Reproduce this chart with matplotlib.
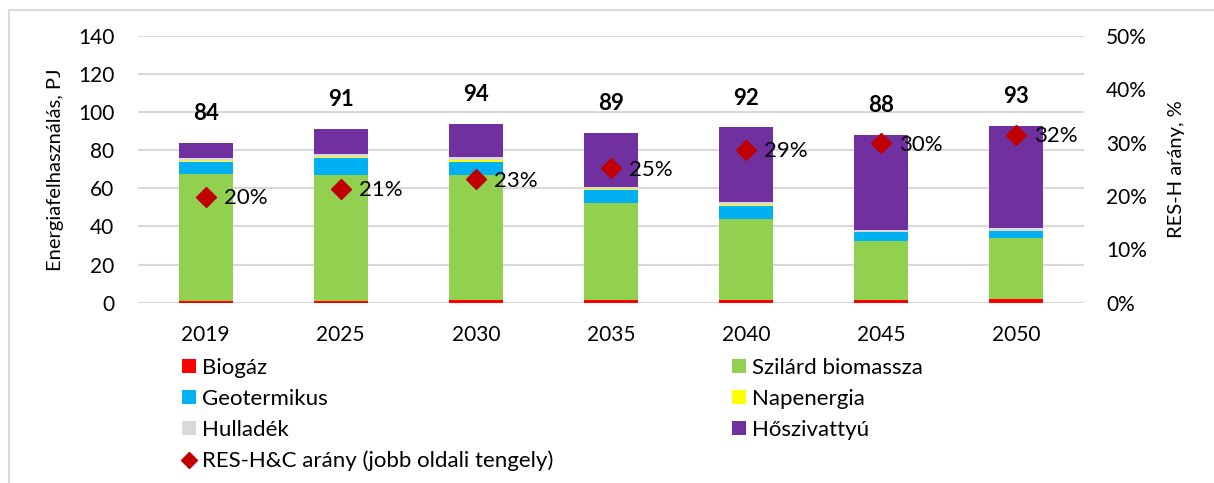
import matplotlib
matplotlib.use("Agg")
import matplotlib.pyplot as plt
from matplotlib.patches import Patch, Rectangle
from matplotlib.lines import Line2D
import numpy as np

plt.rcParams['font.family'] = ['Lato', 'DejaVu Sans']

years = ['2019', '2025', '2030', '2035', '2040', '2045', '2050']
biogaz = [0.8, 0.8, 1.2, 1.2, 1.3, 1.3, 1.8]
szilard = [67.0, 66.0, 65.6, 50.9, 42.4, 31.2, 32.1]
geoterm = [6.0, 9.2, 7.3, 7.3, 7.2, 4.4, 3.5]
napenergia = [0.5, 0.6, 0.7, 0.2, 0.2, 0.1, 0.1]
hulladek = [1.5, 1.7, 1.8, 1.3, 1.9, 1.3, 1.8]
hoszivattyu = [8.2, 12.7, 17.4, 28.0, 39.0, 49.7, 53.7]
totals = [84, 91, 94, 89, 92, 88, 93]
res_share = [19.8, 21.3, 23.1, 25.2, 28.7, 29.9, 31.5]
res_labels = ['20%', '21%', '23%', '25%', '29%', '30%', '32%']

series = [
    ('Biogáz', biogaz, '#FF0000'),
    ('Szilárd biomassza', szilard, '#92D050'),
    ('Geotermikus', geoterm, '#00B0F0'),
    ('Napenergia', napenergia, '#FFFF00'),
    ('Hulladék', hulladek, '#D9D9D9'),
    ('Hőszivattyú', hoszivattyu, '#7030A0'),
]
marker_color = '#C00000'
grid_color = '#D9D9D9'

W, H = 1214, 483
fig = plt.figure(figsize=(W / 100, H / 100), dpi=100)
# outer frame
fig.patches.append(Rectangle((9 / W, -0.1), 1.2, 1 - 10 / H + 0.1, transform=fig.transFigure,
                             fill=False, edgecolor=grid_color, linewidth=1.5))

ax = fig.add_axes([138 / W, 1 - 302.7 / H, (1084 - 138) / W, (302.7 - 36) / H])
x = np.arange(len(years))
bottom = np.zeros(len(years))
handles = {}
for name, vals, col in series:
    ax.bar(x, vals, width=0.40, bottom=bottom, color=col, zorder=3, linewidth=0)
    bottom += np.array(vals)
    handles[name] = Patch(facecolor=col, edgecolor='none')

for xi, t in zip(x, totals):
    ax.text(xi, t + 12, str(t), ha='center', va='baseline', fontsize=16, fontweight='bold', zorder=5)

ax.set_ylim(0, 140)
ax.set_yticks(range(0, 141, 20))
ax.set_xlim(-0.5, len(years) - 0.5)
ax.set_xticks(x)
ax.set_xticklabels(years)
ax.yaxis.grid(True, color=grid_color, linewidth=1.5, zorder=0)
ax.set_axisbelow(True)
for s in ax.spines.values():
    s.set_visible(False)
ax.tick_params(axis='both', length=0, labelsize=15, colors='black')
ax.tick_params(axis='y', pad=17)
ax.tick_params(axis='x', pad=16)
ax.set_ylabel('Energiafelhasználás, PJ', fontsize=14.5, labelpad=10)

ax2 = ax.twinx()
ax2.set_ylim(0, 50)
ax2.set_yticks(range(0, 51, 10))
ax2.set_yticklabels([f'{v}%' for v in range(0, 51, 10)])
for s in ax2.spines.values():
    s.set_visible(False)
ax2.tick_params(axis='y', length=0, labelsize=15, pad=16)
ax2.plot(x, res_share, linestyle='none', marker='D', markersize=10,
         color=marker_color, zorder=6)
for xi, v, lab in zip(x, res_share, res_labels):
    ax2.annotate(lab, (xi, v), xytext=(13, -1), textcoords='offset points',
                 ha='left', va='center', fontsize=16, zorder=7)
ax2.set_ylabel('RES-H arány, %', fontsize=14.5, labelpad=15)

diamond = Line2D([], [], linestyle='none', marker='D', markersize=8, color=marker_color)
col1 = [handles['Biogáz'], handles['Geotermikus'], handles['Hulladék'], diamond]
lab1 = ['Biogáz', 'Geotermikus', 'Hulladék', 'RES-H&C arány (jobb oldali tengely)']
col2 = [handles['Szilárd biomassza'], handles['Napenergia'], handles['Hőszivattyú']]
lab2 = ['Szilárd biomassza', 'Napenergia', 'Hőszivattyú']
common = dict(frameon=False, fontsize=16, borderpad=0, borderaxespad=0,
              handlelength=0.63, handleheight=0.63, handletextpad=0.25,
              labelspacing=0.49, loc='upper left')
leg1 = fig.legend(col1, lab1, bbox_to_anchor=(182 / W, 1 - 358 / H), **common)
leg2 = fig.legend(col2, lab2, bbox_to_anchor=(732 / W, 1 - 358 / H), **common)

fig.savefig('out.png', dpi=100)
